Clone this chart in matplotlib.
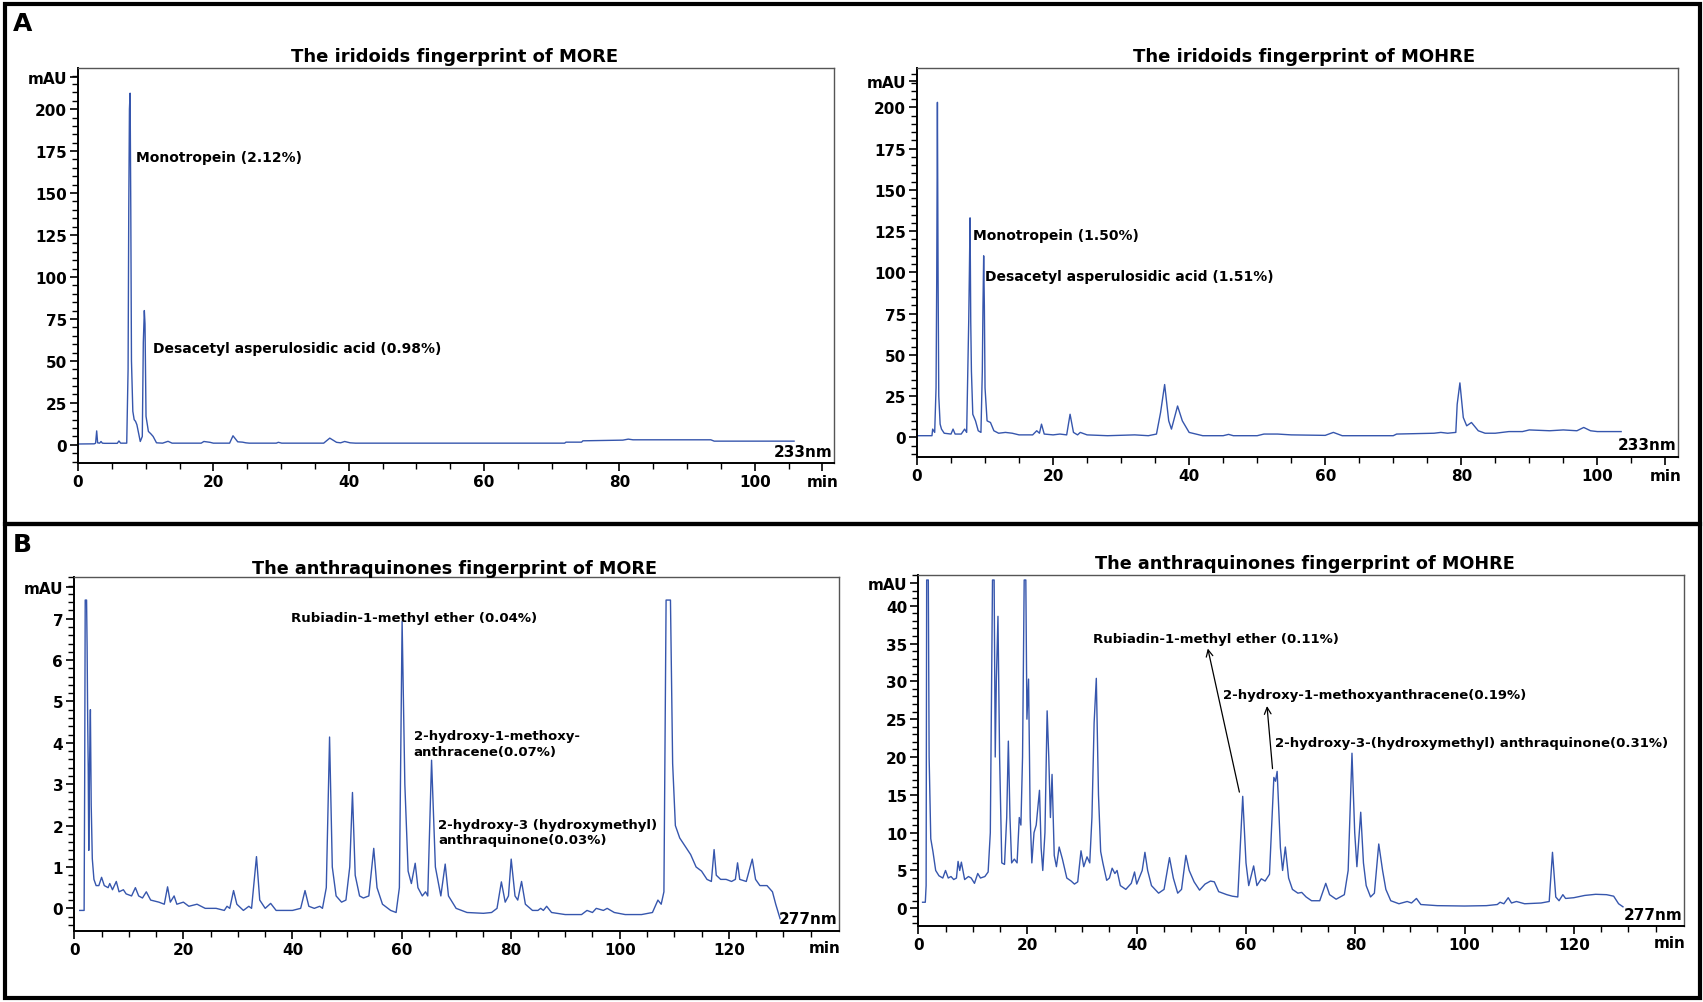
import matplotlib
matplotlib.use("Agg")
import matplotlib.pyplot as plt
from matplotlib.patches import Rectangle
from matplotlib.ticker import FixedLocator

# ---- data: (time min, mAU) ----
iri_more_t = [0, 2.4, 2.6, 2.76, 2.9, 3.2, 3.4, 3.6, 3.9, 5.8, 6.05, 6.3, 7.2, 7.4, 7.5, 7.6, 7.7, 7.8,
              7.9, 8.1, 8.3, 8.5, 8.7, 8.9, 9.2, 9.5, 9.65, 9.8, 9.9, 10.05, 10.4, 10.8, 11.1, 11.6, 12.5,
              13.3, 13.9, 18.2, 18.6, 19.5, 20, 22.4, 22.9, 23.6, 24.3, 24.8, 25.3, 29.3, 29.6, 30.1, 36.3,
              37.2, 38.2, 38.8, 39.4, 40.2, 41, 64, 71.9, 72.1, 74.4, 74.6, 80.5, 81.3, 82, 93.5, 94, 105.8]
iri_more_v = [0.5, 0.6, 1.0, 8.3, 1.2, 1.0, 2.0, 1.0, 0.9, 0.9, 2.3, 1.0, 1.0, 45, 140, 200, 209.5, 140,
              50, 20, 15, 14, 12, 8, 2, 5, 61, 80, 72, 17, 8, 6.4, 5, 1.2, 1.0,
              2.1, 1.0, 1.0, 2.0, 1.5, 1.0, 1.0, 5.4, 1.8, 1.6, 1.2, 1.0, 1.0, 1.5, 1.0, 1.0,
              4.0, 1.5, 1.2, 2.0, 1.2, 1.0, 1.0, 1.0, 1.6, 1.6, 2.4, 2.8, 3.4, 3.0, 3.0, 2.2, 2.2]

iri_mohre_t = [0, 2.2, 2.3, 2.6, 2.8, 2.9, 3.0, 3.1, 3.2, 3.4, 3.6, 4.0, 5.0, 5.3, 5.6, 6.5, 7.0, 7.3,
               7.6, 7.7, 7.8, 7.9, 8.0, 8.2, 8.6, 9.0, 9.4, 9.6, 9.7, 9.8, 9.9, 10.0, 10.3, 10.8, 11.3,
               12.0, 13.0, 14.0, 15.0, 17.0, 17.6, 18.0, 18.3, 18.7, 20.0, 21.0, 22.0, 22.5, 23.0, 23.6,
               24.0, 25.0, 28.0, 32.0, 34.0, 35.2, 35.8, 36.4, 37.0, 37.4, 38.3, 39.0, 40.0, 41.0, 42.0,
               45.0, 45.8, 46.5, 50.0, 51.0, 53.0, 55.0, 60.0, 61.2, 62.5, 70.0, 70.5, 76.0, 77.0, 78.0,
               79.2, 79.4, 79.8, 80.3, 80.8, 81.5, 82.5, 83.5, 85.0, 87.0, 89.0, 90.0, 93.0, 95.0, 97.0,
               98.0, 99.0, 100.0, 103.5]
iri_mohre_v = [1.0, 1.0, 5.0, 3.0, 30, 96, 203, 96, 25, 8, 5, 2.5, 2.0, 5.0, 2.0, 2.0, 5.0, 3.0,
               70, 100, 133, 70, 40, 14, 10, 4, 3, 40, 80, 110, 80, 30, 10, 9, 4,
               2.5, 3.0, 2.5, 1.5, 1.5, 4.0, 2.5, 8.0, 2.0, 1.5, 2.0, 1.5, 14, 3.0, 1.5,
               3.0, 1.5, 1.0, 1.5, 1.0, 2.0, 15, 32, 10, 5, 19, 10, 3, 2, 1.0,
               1.0, 1.8, 1.0, 1.0, 2.0, 2.0, 1.5, 1.2, 3.0, 1.0, 1.0, 2.0, 2.5, 3.0, 2.5,
               3.0, 20, 33, 12, 7, 9, 4, 2.5, 2.5, 3.5, 3.5, 4.5, 4.0, 4.5, 4.0,
               6.0, 4.0, 3.5, 3.5]

anth_more_t = [1.0, 1.8, 1.9, 2.0, 2.25, 2.35, 2.45, 2.55, 2.65, 2.8, 2.95, 3.1, 3.3, 3.6, 4.0, 4.5, 5.0,
               5.5, 6.2, 6.5, 7.0, 7.7, 8.2, 9.0, 9.5, 10.5, 11.2, 11.8, 12.5, 13.2, 14, 15.5, 16.5, 17.1,
               17.6, 18.3, 18.8, 20, 21, 22.5, 24, 26, 27.5, 28, 28.5, 29.2, 29.8, 31, 32, 32.5, 33.4, 34,
               35, 36, 37, 40, 41.5, 42.3, 43, 44, 45, 45.5, 46.2, 46.8, 47.3, 48, 49, 49.8, 50.5, 51.0,
               51.5, 52.3, 53, 54, 54.9, 55.5, 56.5, 58, 59, 59.6, 60.1, 60.6, 61.2, 61.8, 62.5, 63, 63.8,
               64.4, 64.8, 65.5, 66.2, 67.2, 68.0, 68.6, 70, 72, 75, 76.5, 77.5, 78.3, 79, 79.6, 80.1, 80.8,
               81.3, 82.0, 82.7, 84, 85, 85.5, 86, 86.6, 87.5, 90, 93, 94, 95, 95.7, 97, 97.7, 99, 101, 104,
               106, 107, 107.6, 108.1, 108.5, 109.3, 109.7, 110.2, 111, 112, 113, 114, 115, 116, 116.8,
               117.3, 117.7, 118.5, 119.5, 120.5, 121.2, 121.6, 122, 123.2, 124.3, 124.9, 125.7, 127, 128,
               128.6, 129.4]
anth_more_v = [-0.05, -0.05, 3.0, 7.45, 7.45, 6.3, 4.6, 3.4, 1.4, 3.5, 4.8, 2.5, 1.2, 0.7, 0.55, 0.55, 0.75,
               0.55, 0.5, 0.6, 0.45, 0.65, 0.4, 0.45, 0.35, 0.3, 0.5, 0.3, 0.25, 0.4, 0.2, 0.15, 0.1, 0.52,
               0.15, 0.3, 0.1, 0.15, 0.05, 0.1, 0.0, 0.0, -0.05, 0.05, 0.0, 0.43, 0.1, -0.05, 0.05, 0.0, 1.25, 0.2,
               0.0, 0.12, -0.05, -0.05, 0.0, 0.43, 0.05, 0.0, 0.05, 0.0, 0.5, 4.14, 1.0, 0.3, 0.15, 0.2, 1.0, 2.8,
               0.8, 0.3, 0.25, 0.3, 1.45, 0.5, 0.1, -0.05, -0.1, 0.5, 6.94, 3.0, 0.9, 0.6, 1.09, 0.5, 0.3,
               0.4, 0.3, 3.58, 1.0, 0.3, 1.07, 0.3, 0.0, -0.1, -0.12, -0.1, 0.0, 0.64, 0.15, 0.3, 1.19, 0.3,
               0.2, 0.65, 0.1, -0.05, -0.05, 0.0, -0.05, 0.05, -0.1, -0.15, -0.15, -0.05, -0.1, 0.0, -0.05, 0.0, -0.1, -0.15, -0.15,
               -0.1, 0.2, 0.1, 0.4, 7.45, 7.45, 3.5, 2.0, 1.7, 1.5, 1.3, 1.0, 0.9, 0.7, 0.65,
               1.42, 0.8, 0.7, 0.7, 0.65, 0.7, 1.1, 0.7, 0.65, 1.19, 0.7, 0.55, 0.55, 0.4,
               0.1, -0.25]

anth_mohre_t = [0.8, 1.3, 1.45, 1.55, 1.85, 2.0, 2.3, 2.7, 3.2, 3.8, 4.5, 5.0, 5.5, 6.0, 6.5, 7.0, 7.3, 7.6,
                7.9, 8.5, 9.2, 9.7, 10.3, 10.9, 11.4, 12.2, 12.8, 13.2, 13.6, 13.9, 14.1, 14.3, 14.6, 14.9,
                15.3, 15.8, 16.2, 16.5, 16.8, 17.1, 17.6, 18.1, 18.5, 18.8, 19.1, 19.4, 19.7, 19.9, 20.2,
                20.5, 20.8, 21.2, 21.6, 22.2, 22.5, 22.8, 23.2, 23.6, 23.9, 24.2, 24.5, 24.9, 25.3, 25.8,
                26.4, 27.2, 28.0, 28.6, 29.2, 29.8, 30.3, 30.9, 31.4, 31.8, 32.2, 32.6, 33.0, 33.4, 33.8,
                34.5, 35.0, 35.5, 36.0, 36.4, 37.0, 38.0, 39.0, 39.6, 40.0, 41.0, 41.5, 42.0, 42.7, 44.0,
                45.0, 46.0, 46.7, 47.5, 48.2, 49.0, 49.6, 50.5, 51.5, 52.5, 53.5, 54.2, 55.0, 56.5, 57.5,
                58.5, 59.4, 60.0, 60.5, 61.4, 62.0, 62.8, 63.5, 64.3, 65.1, 65.4, 65.7, 66.3, 66.7, 67.2,
                67.8, 68.5, 69.5, 70.2, 71, 72, 73.5, 74.6, 75.3, 76.5, 77.5, 78.0, 78.7, 79.4, 79.9, 80.3,
                81.0, 81.5, 82.0, 82.8, 83.5, 84.3, 85.0, 85.6, 86.5, 88.0, 89.5, 90.3, 91.2, 92.0, 95, 100,
                104, 106.0, 106.5, 107.2, 108.0, 108.6, 109.5, 111, 114, 115.5, 116.1, 116.7, 117.3, 118.0,
                118.5, 120, 122, 124, 126, 127.3, 128.2, 129.0]
anth_mohre_v = [0.8, 0.8, 3, 43.4, 43.4, 20, 9.2, 7.5, 5.0, 4.3, 4.0, 5.0, 4.0, 4.2, 3.8, 4.0, 6.2, 5.0,
                6.1, 3.8, 4.2, 4.0, 3.3, 4.6, 4.0, 4.2, 4.8, 10, 43.4, 43.4, 20, 30, 38.6, 20,
                6.0, 5.8, 12, 22.1, 12, 6.0, 6.5, 6.0, 12.0, 11.0, 20, 43.4, 43.4, 25, 30.3,
                12, 6.0, 10.0, 11.0, 15.6, 8, 5.0, 10, 26.1, 20, 12, 17.7, 7.0, 5.5, 8.1,
                6.5, 4.0, 3.6, 3.2, 3.5, 7.6, 5.5, 6.8, 6.0, 12, 24.5, 30.4, 15, 7.5, 6.0,
                3.7, 4.0, 5.3, 4.6, 5.0, 3.0, 2.5, 3.3, 4.8, 3.2, 5.0, 7.4, 5.0, 3.0, 2.0,
                2.5, 6.7, 4.0, 2.0, 2.5, 7.0, 5.0, 3.5, 2.4, 3.2, 3.6, 3.5, 2.2, 1.8, 1.6,
                1.5, 14.8, 6, 3.0, 5.6, 3.0, 3.9, 3.6, 4.5, 17.3, 16.8, 18.1, 8, 5.0, 8.1,
                4.0, 2.5, 2.0, 2.1, 1.5, 1.0, 1.0, 3.3, 1.8, 1.2, 1.6, 1.8, 5, 20.5, 10, 5.5,
                12.7, 6, 3.0, 1.5, 2.0, 8.5, 5, 2.5, 1.0, 0.6, 0.9, 0.7, 1.3, 0.5, 0.35, 0.3,
                0.35, 0.5, 0.8, 0.6, 1.4, 0.7, 0.9, 0.6, 0.7, 0.9, 7.4, 1.5, 1.0, 1.8,
                1.3, 1.4, 1.7, 1.85, 1.8, 1.6, 0.6, 0.2]

titles = ["The iridoids fingerprint of MORE", "The iridoids fingerprint of MOHRE",
          "The anthraquinones fingerprint of MORE", "The anthraquinones fingerprint of MOHRE"]
wavelengths = ["233nm", "233nm", "277nm", "277nm"]

iri_more_labels = ["Monotropein (2.12%)", "Desacetyl asperulosidic acid (0.98%)"]
iri_more_lab_xy = [(8.5, 171.5), (11.1, 57.5)]
iri_mohre_labels = ["Monotropein (1.50%)", "Desacetyl asperulosidic acid (1.51%)"]
iri_mohre_lab_xy = [(8.3, 122.8), (10.0, 98)]
anth_more_labels = ["Rubiadin-1-methyl ether (0.04%)", "2-hydroxy-1-methoxy-\nanthracene(0.07%)",
                    "2-hydroxy-3 (hydroxymethyl)\nanthraquinone(0.03%)"]
anth_more_lab_xy = [(39.7, 7.04), (62.2, 3.98), (66.7, 1.85)]
anth_mohre_labels = ["Rubiadin-1-methyl ether (0.11%)", "2-hydroxy-1-methoxyanthracene(0.19%)",
                     "2-hydroxy-3-(hydroxymethyl) anthraquinone(0.31%)"]
anth_mohre_lab_xy = [(32.0, 35.7), (55.7, 28.2), (65.4, 21.9)]
# arrows in the MOHRE anthraquinone panel: (tail near peak) -> (head under label)
anth_mohre_arrows = [((58.9, 15.0), (52.9, 34.7)), ((64.9, 18.1), (63.8, 27.1))]

W, H = 1703, 1003
LINE = "#3656ad"
plt.rcParams["font.family"] = "DejaVu Sans"
plt.rcParams["font.weight"] = "bold"

fig = plt.figure(figsize=(W / 100, H / 100), dpi=100)


def make_axes(l, r, t, b):
    return fig.add_axes([l / W, 1 - b / H, (r - l) / W, (b - t) / H])


# outer panel boxes
for (y0, y1) in [(4.5, 525), (525, 998.5)]:
    fig.add_artist(Rectangle((5.3 / W, 1 - y1 / H), (1699.5 - 5.3) / W, (y1 - y0) / H,
                             transform=fig.transFigure, fill=False, lw=3, ec="black"))

fig.text(13 / W, 1 - 12 / H, "A", fontsize=18, fontweight="bold", ha="left", va="top")
fig.text(13 / W, 1 - 533 / H, "B", fontsize=18, fontweight="bold", ha="left", va="top")

panels = [
    dict(box=(78, 834, 69, 464.3), xlim=(0, 111.7), ylim=(-11, 224.5), t=iri_more_t, v=iri_more_v,
         yt=[0, 25, 50, 75, 100, 125, 150, 175, 200], ymin=5, mau=219, xmax_tick=110, kind="A",
         labels=iri_more_labels, lab_xy=iri_more_lab_xy, title_xy=(455, 57)),
    dict(box=(917, 1677.6, 69, 457.5), xlim=(0, 111.8), ylim=(-11.6, 223.8), t=iri_mohre_t, v=iri_mohre_v,
         yt=[0, 25, 50, 75, 100, 125, 150, 175, 200], ymin=5, mau=216, xmax_tick=110, kind="A",
         labels=iri_mohre_labels, lab_xy=iri_mohre_lab_xy, title_xy=(1304, 57)),
    dict(box=(74.3, 839, 578.3, 931.7), xlim=(0, 140.2), ylim=(-0.54, 8.0), t=anth_more_t, v=anth_more_v,
         yt=[0, 1, 2, 3, 4, 5, 6, 7], ymin=0.2, mau=7.76, xmax_tick=135, kind="B",
         labels=anth_more_labels, lab_xy=anth_more_lab_xy, title_xy=(455, 569)),
    dict(box=(918.2, 1683.6, 575.7, 927.3), xlim=(0, 140.1), ylim=(-2.38, 44.1), t=anth_mohre_t,
         v=anth_mohre_v, yt=[0, 5, 10, 15, 20, 25, 30, 35, 40], ymin=1, mau=43.0, xmax_tick=135, kind="B",
         labels=anth_mohre_labels, lab_xy=anth_mohre_lab_xy, title_xy=(1305, 564)),
]

for i, p in enumerate(panels):
    ax = make_axes(*p["box"])
    ax.plot(p["t"], p["v"], color=LINE, lw=1.0, clip_on=True)
    ax.set_xlim(*p["xlim"])
    ax.set_ylim(*p["ylim"])

    for s in ["top", "right"]:
        ax.spines[s].set_color("#555555")
        ax.spines[s].set_linewidth(1.0)
    for s in ["left", "bottom"]:
        ax.spines[s].set_color("black")
        ax.spines[s].set_linewidth(1.4)

    # y ticks, with "mAU" sitting as the top label
    ax.set_yticks(p["yt"] + [p["mau"]])
    ax.set_yticklabels([str(v) for v in p["yt"]] + ["mAU"])
    ymin = p["ymin"]
    minors = [k * ymin for k in range(int(p["ylim"][0] / ymin), int(p["ylim"][1] / ymin) + 1)]
    ax.yaxis.set_minor_locator(FixedLocator(minors))

    # x ticks
    if p["kind"] == "A":
        ax.set_xticks([0, 20, 40, 60, 80, 100, 110])
        ax.set_xticklabels(["0", "20", "40", "60", "80", "100", "min"])
    else:
        ax.set_xticks([0, 20, 40, 60, 80, 100, 120])
        ax.set_xticklabels(["0", "20", "40", "60", "80", "100", "120"])
        ax.text(137.5, -0.025, "min", transform=ax.get_xaxis_transform(), ha="center", va="top",
                fontsize=11, fontweight="bold")
    ax.xaxis.set_minor_locator(FixedLocator(list(range(0, p["xmax_tick"] + 1, 5))))

    ax.tick_params(which="major", direction="out", length=6, width=1.2, labelsize=11, pad=2)
    ax.tick_params(which="minor", direction="out", length=4, width=1.0)
    for lab in ax.get_xticklabels() + ax.get_yticklabels():
        lab.set_fontweight("bold")

    ax.text(0.998, 0.012, wavelengths[i], transform=ax.transAxes, ha="right", va="bottom",
            fontsize=11, fontweight="bold")

    lab_size = 10 if p["kind"] == "A" else 9.5
    for txt, (lx, ly) in zip(p["labels"], p["lab_xy"]):
        ax.text(lx, ly, txt, ha="left", va="center", fontsize=lab_size, fontweight="bold",
                linespacing=1.25)

    fig.text(p["title_xy"][0] / W, 1 - p["title_xy"][1] / H, titles[i], ha="center", va="center",
             fontsize=13 if p["kind"] == "A" else 12.7, fontweight="bold")

    if i == 3:
        for (tail, head) in anth_mohre_arrows:
            ax.annotate("", xy=head, xytext=tail,
                        arrowprops=dict(arrowstyle="->", color="black", lw=0.9, mutation_scale=12))

fig.savefig("out.png", dpi=100)
